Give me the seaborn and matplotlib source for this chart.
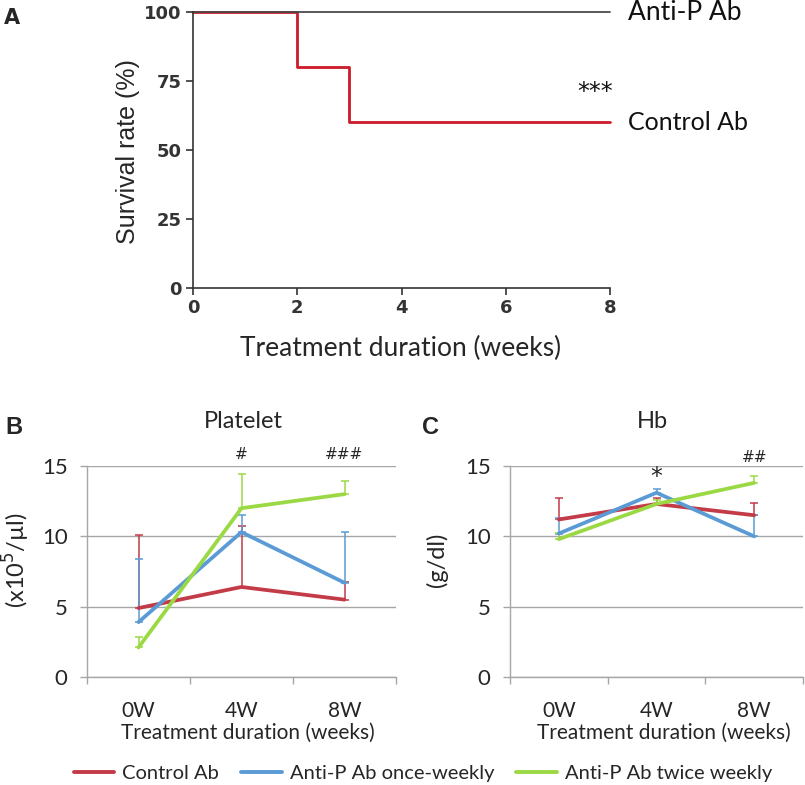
import matplotlib
matplotlib.use("Agg")
import matplotlib.pyplot as plt
from matplotlib.lines import Line2D
from matplotlib.ticker import FixedLocator
import numpy as np
import pandas as pd
import seaborn as sns

# Panel A: survival
surv_weeks = [0, 2, 3, 8]
surv_control = [100, 80, 60, 60]
surv_antip = [100, 100, 100, 100]

# Panels B/C: blood counts per visit
visits = ["0W", "4W", "8W"]
groups = ["Control Ab", "Anti-P Ab once-weekly", "Anti-P Ab twice weekly"]

platelet_control = [4.9, 6.4, 5.5]
platelet_once = [3.9, 10.3, 6.7]
platelet_twice = [2.1, 12.0, 13.0]
platelet_control_sd = [5.2, 4.3, 1.25]
platelet_once_sd = [4.5, 1.25, 3.6]
platelet_twice_sd = [0.75, 2.4, 0.95]

hb_control = [11.2, 12.3, 11.5]
hb_once = [10.2, 13.1, 10.0]
hb_twice = [9.8, 12.3, 13.8]
hb_control_sd = [1.5, 0.4, 0.9]
hb_once_sd = [1.1, 0.25, 1.5]
hb_twice_sd = [0.45, 0.26, 0.5]

platelet_marks = ["", "#", "###"]
hb_marks = ["", "*", "##"]

colors = ["#c23b46", "#5b9bd5", "#9bd944"]

sns.set_theme(style="white")
plt.rcParams["font.family"] = ["Lato", "DejaVu Sans"]

fig = plt.figure(figsize=(8.05, 7.85), dpi=100)
W, H = 805, 785


def rect(x0, y0, x1, y1):
    return [x0 / W, 1 - y1 / H, (x1 - x0) / W, (y1 - y0) / H]


# ---------------- Panel A ----------------
axA = fig.add_axes(rect(193, 12, 610, 288))
surv = pd.DataFrame({
    "week": surv_weeks * 2,
    "rate": surv_control + surv_antip,
    "group": ["Control Ab"] * 4 + ["Anti-P Ab"] * 4,
})
sns.lineplot(data=surv, x="week", y="rate", hue="group",
             hue_order=["Control Ab", "Anti-P Ab"],
             palette={"Anti-P Ab": "#4a4a4a", "Control Ab": "#cc1a28"},
             drawstyle="steps-post", legend=False, ax=axA, clip_on=False)
for ln, lw in zip(axA.lines, [2.0, 1.3]):
    ln.set_linewidth(lw)
axA.set_xlim(0, 8)
axA.set_ylim(0, 100)
axA.set_xticks([0, 2, 4, 6, 8])
axA.set_yticks([0, 25, 50, 75, 100])
for side in ["top", "right"]:
    axA.spines[side].set_visible(False)
for side in ["left", "bottom"]:
    axA.spines[side].set_color("#333333")
    axA.spines[side].set_linewidth(1.2)
axA.tick_params(axis="both", direction="out", length=5, width=1.2,
                color="#333333", labelsize=13, labelcolor="#333333", pad=3,
                left=True, bottom=True)
for lbl in axA.get_xticklabels() + axA.get_yticklabels():
    lbl.set_fontfamily(["DejaVu Sans"])
    lbl.set_fontweight("bold")
axA.set_xlabel("")
axA.set_ylabel("")
axA.text(8.35, 100, "Anti-P Ab", fontsize=19, va="center", ha="left", color="#111111")
axA.text(8.35, 60, "Control Ab", fontsize=18, va="center", ha="left", color="#111111")
axA.text(7.72, 71, "***", fontsize=17, va="center", ha="center", color="#111111",
         family=["DejaVu Sans"])
fig.text(128 / W, 1 - 152 / H, "Survival rate (%)", rotation=90, ha="center",
         va="center", fontsize=18, family=["Liberation Sans", "DejaVu Sans"])
fig.text(401 / W, 1 - 348 / H, "Treatment duration (weeks)", ha="center",
         va="center", fontsize=19)
fig.text(12 / W, 1 - 18 / H, "A", ha="center", va="center", fontsize=15,
         fontweight="bold", family=["DejaVu Sans"])


# ---------------- Panels B and C ----------------
def blood_panel(ax, means, sds, marks, mark_y, mark_sizes):
    pos = np.arange(len(visits))
    df = pd.DataFrame({
        "pos": np.tile(pos, len(groups)),
        "value": np.concatenate(means),
        "group": np.repeat(groups, len(visits)),
    })
    for g, m, s, c in zip(groups, means, sds, colors):
        ax.errorbar(pos, m, yerr=[np.zeros(len(m)), s], fmt="none",
                    ecolor=c, elinewidth=1.1, capsize=3, capthick=1.1, zorder=1.5)
    sns.lineplot(data=df, x="pos", y="value", hue="group", palette=colors,
                 hue_order=groups, linewidth=2.7, legend=False, ax=ax, zorder=2)
    ax.set_xlim(-0.5, 2.5)
    ax.set_ylim(0, 15)
    ax.set_yticks([0, 5, 10, 15])
    ax.set_xticks(pos)
    ax.set_xticklabels(visits)
    ax.xaxis.set_minor_locator(FixedLocator([-0.5, 0.5, 1.5, 2.5]))
    ax.grid(axis="y", color="#a6a6a6", linewidth=1.0)
    ax.set_axisbelow(True)
    for side in ["top", "right"]:
        ax.spines[side].set_visible(False)
    for side in ["left", "bottom"]:
        ax.spines[side].set_color("#a6a6a6")
        ax.spines[side].set_linewidth(1.0)
    ax.tick_params(axis="y", direction="out", length=5, width=1.0,
                   color="#a6a6a6", labelsize=16, pad=9, left=True)
    ax.tick_params(axis="x", which="major", length=0, labelsize=15, pad=17)
    ax.tick_params(axis="x", which="minor", direction="out", length=5,
                   width=1.0, color="#a6a6a6", bottom=True)
    ax.set_xlabel("")
    ax.set_ylabel("")
    for p, txt, yy, fs in zip(pos, marks, mark_y, mark_sizes):
        if txt:
            ax.text(p, yy, txt, ha="center", va="center", fontsize=fs,
                    family=["DejaVu Sans"], clip_on=False)


axB = fig.add_axes(rect(87, 466, 396, 677))
blood_panel(axB,
            [platelet_control, platelet_once, platelet_twice],
            [platelet_control_sd, platelet_once_sd, platelet_twice_sd],
            platelet_marks, [0, 15.8, 15.8], [0, 11, 11])

axC = fig.add_axes(rect(510, 466, 803, 677))
blood_panel(axC,
            [hb_control, hb_once, hb_twice],
            [hb_control_sd, hb_once_sd, hb_twice_sd],
            hb_marks, [0, 14.2, 15.6], [0, 17, 11])

fig.text(243 / W, 1 - 422 / H, "Platelet", ha="center", va="center", fontsize=17)
fig.text(652 / W, 1 - 422 / H, "Hb", ha="center", va="center", fontsize=17)
fig.text(14 / W, 1 - 427 / H, "B", ha="center", va="center", fontsize=17,
         fontweight="bold", family=["Liberation Sans", "DejaVu Sans"])
fig.text(430 / W, 1 - 427 / H, "C", ha="center", va="center", fontsize=17,
         fontweight="bold", family=["Liberation Sans", "DejaVu Sans"])
fig.text(16 / W, 1 - 560 / H, "(x10$^5$/µl)", rotation=90, ha="center",
         va="center", fontsize=17)
fig.text(437 / W, 1 - 560 / H, "(g/dl)", rotation=90, ha="center",
         va="center", fontsize=17)
fig.text(248 / W, 1 - 733 / H, "Treatment duration (weeks)", ha="center",
         va="center", fontsize=15)
fig.text(664 / W, 1 - 733 / H, "Treatment duration (weeks)", ha="center",
         va="center", fontsize=15)

handles = [Line2D([0], [0], color=c, linewidth=2.8) for c in colors]
fig.legend(handles, groups, loc="center", bbox_to_anchor=(423 / W, 1 - 773 / H),
           ncol=3, frameon=False, fontsize=14.5, handlelength=2.0,
           handletextpad=0.4, columnspacing=1.1, borderaxespad=0)

fig.savefig("out.png", dpi=100)
